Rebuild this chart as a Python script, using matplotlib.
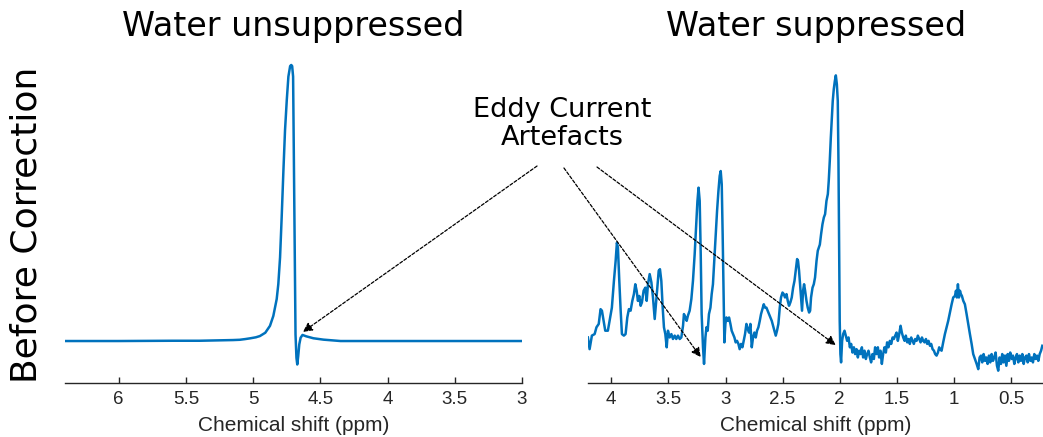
import matplotlib
matplotlib.use("Agg")
import matplotlib.pyplot as plt

# Water unsuppressed spectrum, scaled so the water peak is 100
ppm_unsup = [6.40, 6.00, 5.60, 5.40, 5.30, 5.20, 5.15, 5.10, 5.06, 5.02, 4.98, 4.95,
             4.91, 4.875, 4.85, 4.825, 4.813, 4.80, 4.788, 4.775, 4.763, 4.75,
             4.738, 4.725, 4.717, 4.71, 4.703, 4.695, 4.685, 4.678, 4.672, 4.665,
             4.657, 4.647, 4.633, 4.605, 4.552, 4.477, 4.35, 4.00, 3.50, 3.00]
amp_unsup = [0.0, 0.0, 0.1, 0.1, 0.2, 0.3, 0.35, 0.45, 0.7, 1.0, 1.35, 1.8,
             3.0, 5.5, 9.1, 15.2, 20.6, 30.3, 44.8, 61.8, 76.4, 87.3,
             95.8, 99.6, 100.0, 99.6, 95.8, 54.5, 2.4, -6.1, -8.5, -5.5,
             -1.2, 1.2, 2.2, 1.7, 1.0, 0.5, 0.0, 0.0, 0.0, 0.0]

# Water suppressed spectrum, scaled so the NAA peak (2.03 ppm) is 100
ppm_sup = [
    4.205, 4.19, 4.17, 4.146, 4.13, 4.11, 4.094, 4.082, 4.067, 4.053, 4.03, 4.015,
    3.995, 3.977, 3.962, 3.951, 3.942, 3.93, 3.918, 3.907, 3.89, 3.875, 3.86, 3.846,
    3.831, 3.816, 3.802, 3.79, 3.778, 3.767, 3.755, 3.743, 3.732, 3.717, 3.702, 3.69,
    3.679, 3.664, 3.649, 3.635, 3.62, 3.609, 3.597, 3.585, 3.574, 3.562, 3.55, 3.539,
    3.527, 3.515, 3.504, 3.489, 3.474, 3.46, 3.445, 3.431, 3.416, 3.401, 3.387, 3.372,
    3.364, 3.351, 3.34, 3.329, 3.314, 3.299, 3.285, 3.27, 3.258, 3.246, 3.236, 3.226,
    3.217, 3.209, 3.197, 3.188, 3.176, 3.167, 3.156, 3.145, 3.132, 3.121, 3.110, 3.097,
    3.086, 3.074, 3.062, 3.051, 3.042, 3.033, 3.025, 3.016, 3.010, 3.001, 2.992, 2.981,
    2.969, 2.957, 2.946, 2.934, 2.922, 2.911, 2.899, 2.887, 2.876, 2.864, 2.852, 2.841,
    2.829, 2.817, 2.805, 2.794, 2.782, 2.770, 2.759, 2.747, 2.735, 2.724, 2.712, 2.700,
    2.689, 2.677, 2.665, 2.654, 2.642, 2.631, 2.619, 2.607, 2.595, 2.584, 2.572, 2.560,
    2.549, 2.537, 2.525, 2.514, 2.501, 2.490, 2.479, 2.466, 2.455, 2.444, 2.432, 2.420,
    2.408, 2.396, 2.385, 2.373, 2.365, 2.356, 2.347, 2.338, 2.330, 2.321, 2.312, 2.303,
    2.291, 2.280, 2.268, 2.259, 2.251, 2.238, 2.227, 2.216, 2.203, 2.192, 2.174, 2.163,
    2.151, 2.139, 2.128, 2.116, 2.104, 2.096, 2.087, 2.078, 2.069, 2.061, 2.052, 2.043,
    2.034, 2.025, 2.017, 2.011, 2.005, 2.000, 1.994, 1.988, 1.979, 1.970, 1.958, 1.947,
    1.935, 1.923, 1.911, 1.900, 1.888, 1.876, 1.865, 1.853, 1.841, 1.830, 1.818, 1.806,
    1.795, 1.783, 1.771, 1.760, 1.748, 1.736, 1.725, 1.713, 1.701, 1.690, 1.678, 1.666,
    1.655, 1.643, 1.631, 1.620, 1.608, 1.596, 1.585, 1.573, 1.561, 1.549, 1.537, 1.526,
    1.514, 1.502, 1.491, 1.479, 1.467, 1.456, 1.444, 1.432, 1.421, 1.409, 1.397, 1.386,
    1.374, 1.362, 1.351, 1.339, 1.327, 1.316, 1.304, 1.292, 1.280, 1.269, 1.257, 1.245,
    1.234, 1.222, 1.210, 1.199, 1.187, 1.175, 1.164, 1.152, 1.140, 1.129, 1.123, 1.108,
    1.094, 1.079, 1.064, 1.050, 1.035, 1.020, 1.006, 0.991, 0.982, 0.974, 0.965, 0.956,
    0.947, 0.939, 0.930, 0.918, 0.904, 0.889, 0.875, 0.860, 0.845, 0.831, 0.816, 0.801,
    0.787, 0.775, 0.763, 0.752, 0.740, 0.728, 0.717, 0.705, 0.693, 0.682, 0.670, 0.658,
    0.647, 0.635, 0.623, 0.612, 0.600, 0.588, 0.577, 0.565, 0.553, 0.541, 0.529, 0.518,
    0.507, 0.494, 0.483, 0.471, 0.459, 0.448, 0.436, 0.424, 0.413, 0.401, 0.389, 0.378,
    0.366, 0.354, 0.343, 0.331, 0.319, 0.308, 0.296, 0.284, 0.272, 0.261, 0.249, 0.237,
    0.226,
]
amp_sup = [
    14.8, 11.0, 15.4, 15.9, 18.1, 19.2, 24.0, 23.5, 20.2, 17.0, 17.0, 20.2,
    24.5, 33.2, 39.7, 45.6, 44.0, 33.2, 23.5, 15.9, 15.4, 15.9, 21.3, 24.0,
    23.5, 26.7, 28.9, 32.1, 30.0, 26.7, 28.3, 25.1, 26.2, 30.0, 31.0, 26.7,
    32.1, 35.4, 32.7, 27.8, 20.8, 25.6, 31.0, 36.5, 37.0, 33.2, 24.5, 18.1,
    15.9, 11.6, 17.0, 14.8, 15.9, 14.3, 15.4, 14.3, 15.4, 14.3, 14.8, 18.6,
    22.4, 21.3, 20.2, 21.9, 23.5, 27.3, 33.2, 41.9, 50.5, 59.0, 63.5, 59.2,
    41.9, 22.4, 11.6, 6.2, 14.8, 18.1, 17.0, 22.4, 24.5, 28.9, 32.1, 40.8,
    48.4, 55.9, 62.4, 67.3, 68.9, 64.6, 48.4, 26.7, 13.2, 19.2, 21.3, 20.2,
    21.3, 19.2, 17.0, 15.9, 14.8, 13.2, 13.7, 12.7, 11.0, 12.7, 11.6, 13.7,
    15.9, 19.2, 17.5, 16.4, 19.2, 11.6, 14.8, 16.4, 14.8, 17.0, 18.1, 20.2,
    22.4, 24.0, 25.6, 24.5, 24.5, 23.5, 22.4, 21.3, 20.2, 18.6, 17.0, 15.4,
    17.0, 19.2, 24.5, 27.8, 29.4, 28.9, 27.8, 28.9, 26.7, 25.1, 26.2, 27.8,
    31.0, 33.2, 36.5, 40.3, 39.7, 36.5, 32.1, 27.8, 23.5, 30.0, 32.1, 30.0,
    26.7, 24.5, 22.9, 23.5, 27.8, 31.0, 32.1, 34.3, 39.7, 43.0, 45.0, 48.4,
    51.6, 53.8, 54.9, 59.2, 61.4, 65.7, 72.2, 79.7, 86.2, 91.7, 95.5, 98.1,
    100.0, 97.1, 91.7, 72.2, 45.1, 20.2, 9.4, 6.7, 13.7, 15.9, 17.0, 15.4,
    13.7, 14.8, 11.6, 12.7, 9.9, 11.6, 9.4, 11.0, 8.3, 10.5, 9.4, 11.6,
    8.3, 10.5, 7.8, 9.4, 10.5, 8.3, 6.7, 9.4, 7.8, 11.6, 9.4, 11.6,
    8.3, 10.5, 6.2, 9.4, 11.6, 9.9, 13.2, 11.6, 13.7, 12.7, 14.8, 14.3,
    15.4, 16.4, 13.7, 15.9, 18.6, 16.4, 14.8, 13.7, 15.4, 13.2, 14.3, 12.7,
    14.8, 13.7, 12.7, 14.3, 13.7, 15.4, 14.3, 13.2, 14.8, 13.7, 13.2, 14.3,
    12.7, 13.7, 12.1, 12.7, 11.0, 10.5, 9.4, 8.9, 9.9, 11.6, 11.0, 10.5,
    13.2, 15.9, 18.1, 20.2, 22.9, 25.6, 27.8, 28.3, 30.0, 27.8, 32.1, 27.8,
    30.0, 28.9, 28.3, 26.7, 25.6, 22.4, 19.2, 15.9, 12.7, 9.4, 7.8, 6.2,
    4.5, 8.3, 8.9, 6.7, 9.4, 7.2, 8.3, 6.2, 8.9, 6.7, 9.4, 7.2,
    8.3, 9.9, 5.6, 4.0, 8.3, 6.2, 9.4, 6.7, 8.9, 5.6, 9.4, 7.2,
    9.9, 7.8, 8.9, 6.2, 8.3, 9.4, 6.7, 8.9, 7.2, 9.4, 6.2, 8.3,
    8.9, 6.7, 9.4, 7.2, 8.3, 6.7, 9.4, 7.8, 8.9, 7.2, 9.4, 10.5,
    12.1,
]

unsup_ticks = [6, 5.5, 5, 4.5, 4, 3.5, 3]
sup_ticks = [4, 3.5, 3, 2.5, 2, 1.5, 1, 0.5]

line_color = "#0072BD"
axis_color = "#262626"
tick_font = "Liberation Sans"

fig = plt.figure(figsize=(10.43, 4.37), dpi=100)
ax1 = fig.add_axes([0.0623, 0.1236, 0.4382, 0.7391])
ax2 = fig.add_axes([0.5642, 0.1236, 0.4358, 0.7391])

ax1.plot(ppm_unsup, amp_unsup, color=line_color, lw=1.8)
ax1.set_xlim(6.4, 3.0)
ax1.set_ylim(-15.2, 101.8)
ax1.set_xticks(unsup_ticks)
ax1.set_xticklabels(["%g" % t for t in unsup_ticks])
ax1.set_title("Water unsuppressed", fontsize=24, pad=17)

ax2.plot(ppm_sup, amp_sup, color=line_color, lw=1.8)
ax2.set_xlim(4.2, 0.22)
ax2.set_ylim(0, 105)
ax2.set_xticks(sup_ticks)
ax2.set_xticklabels(["%g" % t for t in sup_ticks])
ax2.set_title("Water suppressed", fontsize=24, pad=17)

for ax in (ax1, ax2):
    ax.patch.set_visible(False)
    for side in ("left", "right", "top"):
        ax.spines[side].set_visible(False)
    ax.spines["bottom"].set_color(axis_color)
    ax.spines["bottom"].set_linewidth(1.0)
    ax.set_yticks([])
    ax.tick_params(axis="x", direction="in", length=4, width=1, color=axis_color,
                   pad=5.5, labelsize=13.5, labelcolor=axis_color)
    for lab in ax.get_xticklabels():
        lab.set_fontfamily(tick_font)
    ax.set_xlabel("Chemical shift (ppm)", fontsize=15, family=tick_font,
                  color=axis_color, labelpad=6)

fig.text(0.025, 0.485, "Before Correction", rotation=90, fontsize=26,
         ha="center", va="center")
fig.text(0.5388, 0.716, "Eddy Current\nArtefacts", fontsize=19.5,
         ha="center", va="center", linespacing=1.1)

# dashed arrows from the label to the artefacts
arrow_kw = dict(arrowstyle="-|>", color="black", lw=0.9, linestyle=(0, (2.5, 1.5)),
                mutation_scale=14, shrinkA=0, shrinkB=0)
ax1.annotate("", xy=(4.63, 3.3), xycoords="data", xytext=(0.5149, 0.6201),
             textcoords="figure fraction", arrowprops=arrow_kw)
ax2.annotate("", xy=(3.217, 8.4), xycoords="data", xytext=(0.5407, 0.6156),
             textcoords="figure fraction", arrowprops=arrow_kw)
ax2.annotate("", xy=(2.035, 12.3), xycoords="data", xytext=(0.5724, 0.6178),
             textcoords="figure fraction", arrowprops=arrow_kw)

fig.savefig("out.png", dpi=100)
